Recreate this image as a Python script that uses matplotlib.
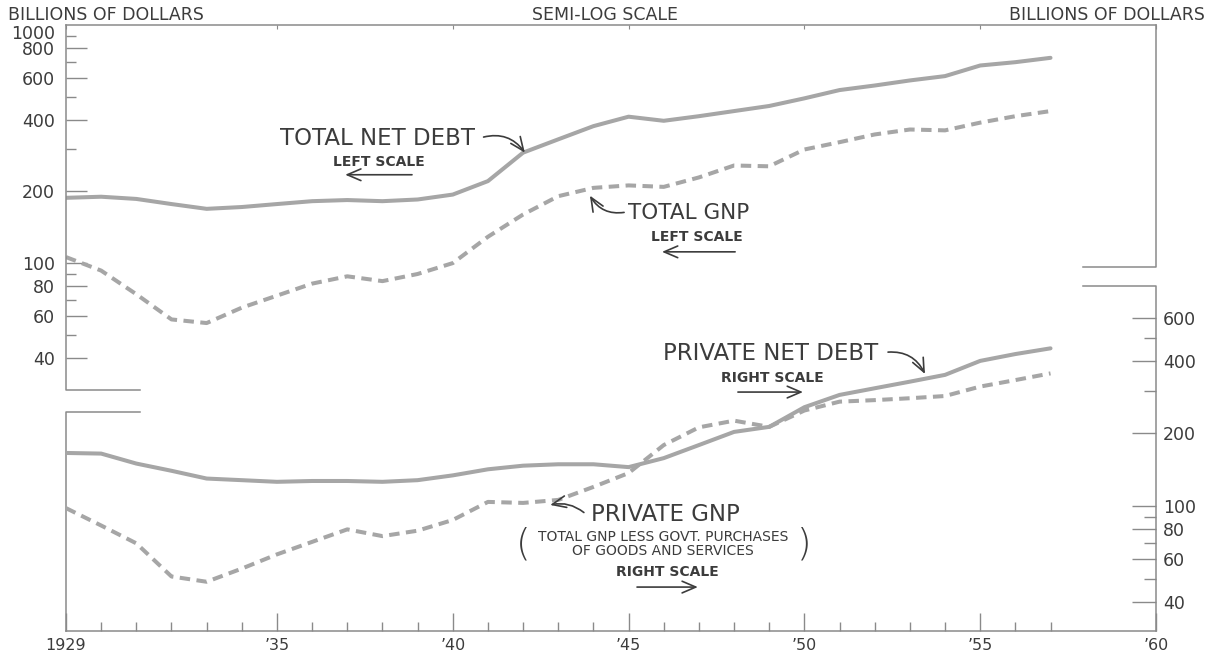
import matplotlib
matplotlib.use("Agg")
import matplotlib.pyplot as plt
from matplotlib.ticker import FixedLocator, FixedFormatter, NullFormatter

# Werte in Mrd. Dollar (1929-1957)
years = list(range(1929, 1958))

total_net_debt = [188, 190, 186, 177, 169, 172, 177, 182, 184, 182,
                  185, 194, 221, 291, 331, 376, 412, 396, 414, 435,
                  457, 492, 533, 557, 585, 610, 676, 698, 728]
total_gnp = [106, 93, 74, 58, 56, 65, 73, 82, 88, 84,
             90, 100, 129, 160, 191, 207, 212, 209, 229, 257,
             255, 300, 322, 347, 364, 361, 389, 414, 435]
private_net_debt = [166, 165, 150, 140, 130, 128, 126, 127, 127, 126,
                    128, 134, 142, 147, 149, 149, 145, 158, 179, 203,
                    213, 257, 289, 308, 328, 350, 400, 427, 451]
private_gnp = [98, 83, 70, 51, 48.5, 55, 63, 71, 80, 75,
               79, 87.5, 104, 103, 106, 120, 137, 179, 212, 226,
               213, 249, 271, 275, 280, 286, 313, 333, 355]

x_ticks = [1929, 1935, 1940, 1945, 1950, 1955, 1960]
x_labels = ["1929", "\u201935", "\u201940", "\u201945", "\u201950", "\u201955", "\u201960"]
left_major = [40, 60, 80, 100, 200, 400, 600, 800]
left_minor = [50, 70, 90, 300, 500, 700, 900]
right_major = [40, 60, 80, 100, 200, 400, 600]
right_minor = [50, 70, 90, 300, 500]

LINE = "#a6a6a6"
FRAME = "#8a8a8a"
INK = "#3c3c3c"

plt.rcParams["font.family"] = ["DejaVu Sans"]

fig = plt.figure(figsize=(12.17, 6.54), dpi=100)
ax = fig.add_axes([66 / 1217, 1 - 631 / 654, 1090 / 1217, 606 / 654])
axr = ax.twinx()

ax.set_yscale("log")
axr.set_yscale("log")
ax.set_xlim(1929, 1960)
ax.set_ylim(2.85, 1000)
axr.set_ylim(30.3, 9900)

dash = (2.6, 1.6)
ax.plot(years, total_net_debt, color=LINE, lw=2.9, solid_capstyle="round")
ax.plot(years, total_gnp, color=LINE, lw=2.9, dashes=dash)
axr.plot(years, private_net_debt, color=LINE, lw=2.9, solid_capstyle="round")
axr.plot(years, private_gnp, color=LINE, lw=2.9, dashes=dash)

# Rahmen: links und rechts unterbrochen
for a in (ax, axr):
    a.spines["left"].set_visible(False)
    a.spines["right"].set_visible(False)
axr.spines["top"].set_visible(False)
axr.spines["bottom"].set_visible(False)
for s in ("top", "bottom"):
    ax.spines[s].set_color(FRAME)
    ax.spines[s].set_linewidth(1.1)

frame_kw = dict(transform=ax.transAxes, clip_on=False, color=FRAME, lw=1.1)
ax.plot([0, 0, 0.068], [1, 0.3977, 0.3977], **frame_kw)
ax.plot([0.068, 0, 0], [0.3614, 0.3614, 0], **frame_kw)
ax.plot([1, 1, 0.933], [1, 0.6007, 0.6007], **frame_kw)
ax.plot([0.933, 1, 1], [0.5693, 0.5693, 0], **frame_kw)

# x-Achse
ax.xaxis.set_major_locator(FixedLocator(x_ticks))
ax.xaxis.set_major_formatter(FixedFormatter(x_labels))
ax.xaxis.set_minor_locator(FixedLocator(years))
ax.tick_params(axis="x", which="major", direction="in", length=13, width=1,
               color=FRAME, labelsize=11.5, labelcolor=INK, pad=5)
ax.tick_params(axis="x", which="minor", direction="in", length=6.5, width=1, color=FRAME)
top = ax.secondary_xaxis("top")
top.set_xticks(x_ticks)
top.tick_params(direction="in", length=3, color=FRAME, labeltop=False)
top.spines["top"].set_visible(False)

# linke Skala
ax.yaxis.set_major_locator(FixedLocator(left_major))
ax.yaxis.set_major_formatter(FixedFormatter([str(v) for v in left_major]))
ax.yaxis.set_minor_locator(FixedLocator(left_minor))
ax.yaxis.set_minor_formatter(NullFormatter())
ax.tick_params(axis="y", which="major", direction="in", length=15, width=1,
               color=FRAME, labelsize=12.5, labelcolor=INK, pad=8)
ax.tick_params(axis="y", which="minor", direction="in", length=7.5, width=1, color=FRAME)
ax.annotate("1000", xy=(0, 1000), xycoords=("axes fraction", "data"),
            xytext=(-8, 0), textcoords="offset points", ha="right", va="top",
            fontsize=12.5, color=INK)

# rechte Skala
axr.yaxis.set_major_locator(FixedLocator(right_major))
axr.yaxis.set_major_formatter(FixedFormatter([str(v) for v in right_major]))
axr.yaxis.set_minor_locator(FixedLocator(right_minor))
axr.yaxis.set_minor_formatter(NullFormatter())
axr.tick_params(axis="y", which="major", direction="in", length=17, width=1,
                color=FRAME, labelsize=12.5, labelcolor=INK, pad=5)
axr.tick_params(axis="y", which="minor", direction="in", length=8.5, width=1, color=FRAME)

# Kopfzeile
head_kw = dict(fontsize=12.5, color=INK, va="center")
fig.text(8 / 1217, 1 - 15 / 654, "BILLIONS OF DOLLARS", ha="left", **head_kw)
fig.text(605 / 1217, 1 - 15 / 654, "SEMI-LOG SCALE", ha="center", **head_kw)
fig.text(1205 / 1217, 1 - 15 / 654, "BILLIONS OF DOLLARS", ha="right", **head_kw)

big = dict(fontsize=16.5, color=INK, ha="center", va="center")
small = dict(fontsize=10, color=INK, ha="center", va="center", fontweight="bold")
note = dict(fontsize=10, color=INK, ha="center", va="center")
curve = dict(arrowstyle="->,head_length=0.7,head_width=0.3", color=INK, lw=1.2,
             shrinkA=2, shrinkB=0, mutation_scale=14)
straight = dict(arrowstyle="->,head_length=0.7,head_width=0.3", color=INK, lw=1.2,
                shrinkA=0, shrinkB=0, mutation_scale=14)

# obere Beschriftungen (linke Skala)
ax.text(1937.85, 333, "TOTAL NET DEBT", **big)
ax.annotate("", xy=(1942.05, 291), xytext=(1940.8, 336),
            arrowprops=dict(curve, connectionstyle="arc3,rad=-0.35"))
ax.text(1937.9, 266, "LEFT SCALE", **small)
ax.annotate("", xy=(1936.94, 235), xytext=(1938.84, 235), arrowprops=straight)

ax.text(1946.7, 163, "TOTAL GNP", fontsize=15.5, color=INK, ha="center", va="center")
ax.annotate("", xy=(1943.9, 192), xytext=(1944.95, 164),
            arrowprops=dict(curve, connectionstyle="arc3,rad=-0.35"))
ax.text(1946.95, 129, "LEFT SCALE", **small)
ax.annotate("", xy=(1945.95, 111.5), xytext=(1948.03, 111.5), arrowprops=straight)

# untere Beschriftungen (rechte Skala)
axr.text(1949.05, 431, "PRIVATE NET DEBT", **big)
axr.annotate("", xy=(1953.43, 353), xytext=(1952.3, 434),
             arrowprops=dict(curve, connectionstyle="arc3,rad=-0.35"))
axr.text(1949.08, 339, "RIGHT SCALE", **small)
axr.annotate("", xy=(1949.96, 297), xytext=(1948.11, 297), arrowprops=straight)

axr.text(1946.06, 91.8, "PRIVATE GNP", **big)
axr.annotate("", xy=(1942.77, 101), xytext=(1943.79, 92.4),
             arrowprops=dict(curve, connectionstyle="arc3,rad=0.25"))
axr.text(1945.98, 74.4, "TOTAL GNP LESS GOVT. PURCHASES", **note)
axr.text(1945.98, 65.0, "OF GOODS AND SERVICES", **note)
axr.text(1942.0, 69.6, "(", fontsize=27, color=INK, ha="center", va="center",
         fontweight="light")
axr.text(1950.0, 69.6, ")", fontsize=27, color=INK, ha="center", va="center",
         fontweight="light")
axr.text(1946.09, 53.2, "RIGHT SCALE", **small)
axr.annotate("", xy=(1946.97, 46.1), xytext=(1945.24, 46.1), arrowprops=straight)

fig.savefig("out.png", dpi=100, facecolor="white")
